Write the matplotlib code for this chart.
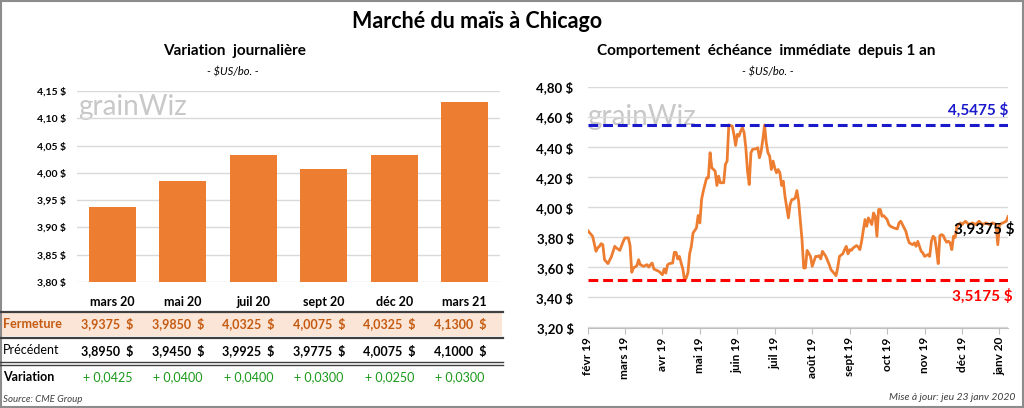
import matplotlib.pyplot as plt
from matplotlib.patches import Rectangle
from matplotlib.lines import Line2D
from matplotlib.transforms import blended_transform_factory

plt.rcParams['font.family'] = ['Lato', 'DejaVu Sans']

# daily variation (bars + table)
contracts = ['mars 20', 'mai 20', 'juil 20', 'sept 20', 'déc 20', 'mars 21']
closing = [3.9375, 3.9850, 4.0325, 4.0075, 4.0325, 4.1300]
previous = [3.8950, 3.9450, 3.9925, 3.9775, 4.0075, 4.1000]
change = [0.0425, 0.0400, 0.0400, 0.0300, 0.0250, 0.0300]

# nearby contract over 1 year (trading day index, $US/bo.)
day_idx = [0, 3, 5, 6, 7, 8, 9, 10, 12, 14, 16, 17, 19, 21, 22, 24, 25, 26, 27, 29,
           30, 31, 33, 35, 36, 37, 38, 39, 42, 44, 45, 46, 47, 48, 50, 51, 52, 53, 54, 55,
           56, 57, 58, 59, 60, 61, 62, 64, 65, 66, 67, 68, 70, 71, 72, 73, 74, 75, 76, 77,
           78, 79, 80, 81, 82, 83, 85, 86, 87, 88, 89, 90, 91, 92, 93, 94, 95, 96, 97, 99,
           100, 101, 102, 103, 104, 105, 106, 107, 108, 109, 110, 111, 112, 113, 114, 115,
           116, 118, 119, 120, 121, 122, 123, 124, 126, 127, 128, 129, 131, 132, 133, 134,
           135, 136, 137, 138, 140, 142, 143, 145, 146, 147, 148, 150, 151, 152, 153, 154,
           155, 156, 158, 159, 160, 161, 163, 164, 165, 167, 168, 169, 170, 171, 172, 173,
           174, 176, 177, 178, 180, 182, 183, 184, 185, 187, 188, 189, 191, 192, 193, 194,
           195, 196, 197, 198, 200, 201, 202, 203, 204, 205, 206, 207, 208, 209, 210, 211,
           212, 213, 214, 215, 216, 217, 218, 219, 220, 222, 224, 226, 228, 230, 232, 234,
           236, 238, 240, 241, 242, 244, 246, 247]
price = [3.847, 3.807, 3.707, 3.730, 3.740, 3.758, 3.751, 3.651, 3.625, 3.670, 3.740, 3.729,
         3.713, 3.773, 3.796, 3.796, 3.745, 3.567, 3.596, 3.611, 3.651, 3.618, 3.607, 3.618,
         3.602, 3.618, 3.629, 3.589, 3.573, 3.551, 3.589, 3.562, 3.616, 3.625, 3.629, 3.700,
         3.700, 3.656, 3.673, 3.629, 3.589, 3.5175, 3.529, 3.565, 3.691, 3.740, 3.829, 3.862,
         3.945, 3.896, 4.051, 4.107, 4.196, 4.196, 4.363, 4.263, 4.251, 4.240, 4.145, 4.207,
         4.163, 4.163, 4.163, 4.285, 4.307, 4.5475, 4.540, 4.485, 4.411, 4.485, 4.473, 4.507,
         4.530, 4.496, 4.396, 4.240, 4.151, 4.363, 4.385, 4.389, 4.396, 4.329, 4.373, 4.451,
         4.5475, 4.429, 4.362, 4.340, 4.251, 4.307, 4.262, 4.229, 4.251, 4.229, 4.145, 4.173,
         4.073, 3.929, 4.018, 4.051, 4.053, 4.062, 4.111, 4.040, 3.785, 3.596, 3.596, 3.713,
         3.673, 3.607, 3.640, 3.673, 3.673, 3.678, 3.656, 3.707, 3.673, 3.618, 3.585, 3.558,
         3.545, 3.600, 3.673, 3.691, 3.718, 3.740, 3.690, 3.718, 3.713, 3.729, 3.745, 3.736,
         3.718, 3.773, 3.918, 3.873, 3.929, 3.885, 3.962, 3.940, 3.807, 3.985, 3.985, 3.940,
         3.944, 3.918, 3.885, 3.873, 3.862, 3.856, 3.896, 3.907, 3.885, 3.840, 3.796, 3.763,
         3.751, 3.763, 3.740, 3.773, 3.740, 3.707, 3.696, 3.673, 3.685, 3.673, 3.773, 3.807,
         3.796, 3.718, 3.625, 3.811, 3.818, 3.811, 3.785, 3.767, 3.774, 3.763, 3.718, 3.807,
         3.800, 3.873, 3.885, 3.896, 3.885, 3.907, 3.885, 3.896, 3.885, 3.907, 3.885, 3.896,
         3.885, 3.896, 3.885, 3.751, 3.885, 3.896, 3.907, 3.9375]
month_labels = ['févr 19', 'mars 19', 'avr 19', 'mai 19', 'juin 19', 'juil 19',
                'août 19', 'sept 19', 'oct 19', 'nov 19', 'déc 19', 'janv 20']
month_step = 22
high_1y = 4.5475
low_1y = 3.5175
last_close = 3.9375

ORANGE = '#ED7D31'
GRID = '#D9D9D9'
W, H = 1024, 408


def fr(v, nd):
    return f'{v:.{nd}f}'.replace('.', ',')


def fx(px):
    return px / W


def fy(py):
    return 1 - py / H


fig = plt.figure(figsize=(10.24, 4.08), dpi=100)

fig.text(fx(477), fy(22), 'Marché du maïs à Chicago', ha='center', va='center',
         fontsize=15.5, fontweight='bold')
fig.text(fx(235), fy(51), 'Variation  journalière', ha='center', va='center',
         fontsize=11, fontweight='bold')
fig.text(fx(233), fy(72), '- $US/bo. -', ha='center', va='center', fontsize=8, style='italic')
fig.text(fx(766), fy(51), 'Comportement  échéance  immédiate  depuis 1 an', ha='center',
         va='center', fontsize=11, fontweight='bold')
fig.text(fx(768), fy(72), '- $US/bo. -', ha='center', va='center', fontsize=8, style='italic')

# ---- left : bars
ax1 = fig.add_axes([fx(77), fy(282), 423 / W, 191 / H])
x = list(range(len(contracts)))
ax1.bar(x, closing, width=0.66, color=ORANGE, zorder=3)
ax1.set_xlim(-0.5, 5.5)
ax1.set_ylim(3.80, 4.15)
yt = [3.80 + 0.05 * i for i in range(8)]
ax1.set_yticks(yt)
ax1.set_yticklabels([fr(v, 2) + ' $' for v in yt], fontsize=7.5, fontweight='bold')
ax1.set_xticks(x)
ax1.set_xticklabels(contracts, fontsize=9, fontweight='bold')
ax1.tick_params(length=0, axis='y', pad=8)
ax1.tick_params(length=0, axis='x', pad=10)
ax1.yaxis.grid(True, color=GRID, lw=1, zorder=0)
for s in ax1.spines.values():
    s.set_visible(False)
ax1.text(-0.48, 4.12, 'grainWiz', fontsize=20, color='#C8C8C8', va='center', zorder=1)

# ---- table
fig.patches.append(Rectangle((0, fy(336)), fx(502), (336 - 312) / H, transform=fig.transFigure,
                             facecolor='#FBE5D6', edgecolor='none', zorder=0))
for yy, lw in [(311.5, 1.6), (337.5, 1.6), (361.5, 1.0), (364.5, 1.0)]:
    fig.add_artist(Line2D([0, fx(503)], [fy(yy), fy(yy)], color='#404040', lw=lw))

tr = blended_transform_factory(ax1.transData, fig.transFigure)
fig.text(fx(3), fy(324), 'Fermeture', fontsize=9, fontweight='bold', color='#C55A11', va='center')
fig.text(fx(3), fy(350.5), 'Précédent', fontsize=9, color='black', va='center')
fig.text(fx(3), fy(377), 'Variation', fontsize=9, fontweight='bold', color='black', va='center')
for i in x:
    fig.text(i - 0.07, fy(324), fr(closing[i], 4) + '  $', transform=tr, ha='center', va='center',
             fontsize=9, fontweight='bold', color='#C55A11')
    fig.text(i - 0.07, fy(350.5), fr(previous[i], 4) + '  $', transform=tr, ha='center',
             va='center', fontsize=9, fontweight='bold', color='black')
    fig.text(i - 0.07, fy(377), '+ ' + fr(change[i], 4), transform=tr, ha='center', va='center',
             fontsize=9, color='#1A9A1A')
fig.text(fx(3), fy(399), 'Source: CME Group', fontsize=7, style='italic', va='center',
         color='#404040')
fig.text(fx(1015), fy(398), 'Mise à jour: jeu 23 janv 2020', fontsize=7.5, style='italic',
         va='center', ha='right', color='#404040')

# ---- right : line
ax2 = fig.add_axes([fx(587.5), fy(327.5), 420.5 / W, 240.5 / H])
ax2.plot(day_idx, price, color=ORANGE, lw=2, zorder=3)
ax2.axhline(high_1y, color='#1A1ACC', lw=2.2, dashes=(3.2, 1.6), zorder=4)
ax2.axhline(low_1y, color='#FF0000', lw=2.2, dashes=(3.2, 1.6), zorder=4)
ax2.set_xlim(0, day_idx[-1])
ax2.set_ylim(3.2, 4.8)
yt2 = [3.2 + 0.2 * i for i in range(9)]
ax2.set_yticks(yt2)
ax2.set_yticklabels([fr(v, 2) + ' $' for v in yt2], fontsize=9.5, fontweight='bold')
ax2.tick_params(axis='y', length=0, pad=10)
mt = [month_step * i for i in range(len(month_labels))]
ax2.set_xticks(mt)
ax2.set_xticklabels(month_labels, rotation=90, fontsize=8.5, fontweight='bold')
ax2.tick_params(axis='x', length=4, color='#BFBFBF', direction='out', pad=3)
ax2.yaxis.grid(True, color=GRID, lw=1, zorder=0)
for k, s in ax2.spines.items():
    s.set_visible(k == 'bottom')
ax2.spines['bottom'].set_color('#BFBFBF')
ax2.text(0, 4.60, 'grainWiz', fontsize=20, color='#C8C8C8', va='center', zorder=1)

ax2.annotate(fr(high_1y, 4) + ' $', (day_idx[-1], high_1y), xytext=(0, 5),
             textcoords='offset points', ha='right', va='bottom', fontsize=11,
             fontweight='bold', color='#1A1ACC')
ax2.annotate(fr(low_1y, 4) + ' $', (day_idx[-1], low_1y), xytext=(3, -6),
             textcoords='offset points', ha='right', va='top', fontsize=11,
             fontweight='bold', color='#FF0000')
ax2.annotate(fr(last_close, 4) + ' $', (day_idx[-1], last_close), xytext=(5, -9),
             textcoords='offset points', ha='right', va='center', fontsize=11,
             fontweight='bold', color='black', annotation_clip=False, zorder=5)

fig.patches.append(Rectangle((0.001, 0.002), 0.998, 0.996, transform=fig.transFigure,
                             fill=False, edgecolor='#8C8C8C', lw=1.5))

fig.savefig('out.png', dpi=100)
